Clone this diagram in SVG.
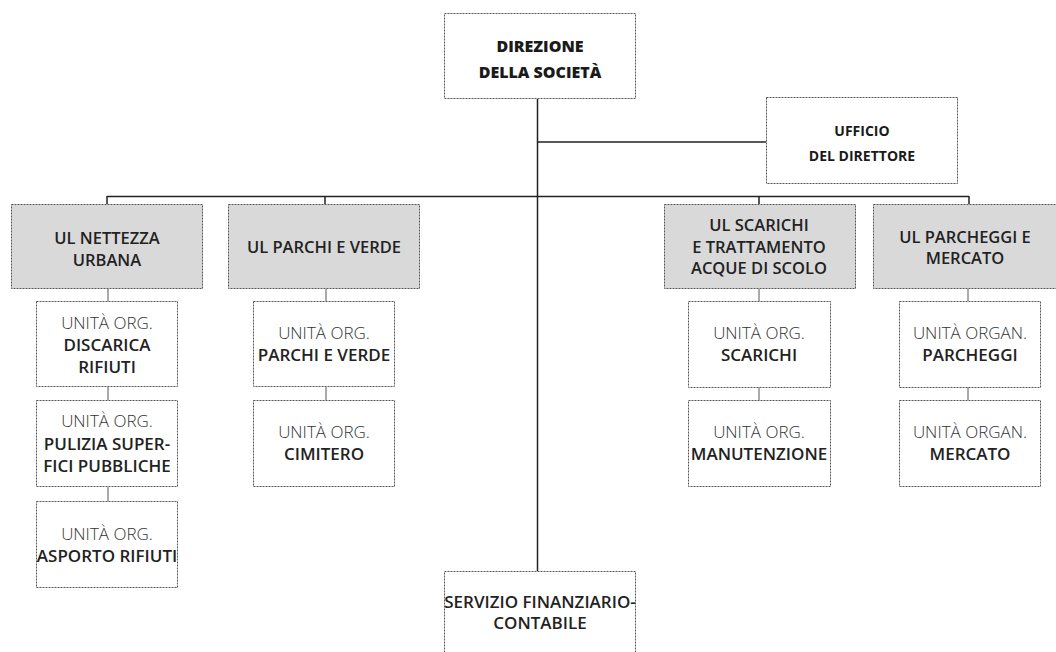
<svg xmlns="http://www.w3.org/2000/svg" width="1056" height="652" viewBox="0 0 1056 652">
<style>
  .box { fill: #ffffff; stroke: #555555; stroke-width: 1; stroke-dasharray: 2 1; }
  .ul { fill: #d9d9da; stroke: #555555; stroke-width: 1; stroke-dasharray: 2 1; }
  .main { stroke: #222222; stroke-width: 1.5; fill: none; }
  .sub { stroke: #555555; stroke-width: 1; fill: none; }
  text { font-family: "Open Sans", "Liberation Sans", sans-serif; text-anchor: middle; }
  .hd { font-size: 16px; font-weight: 800; fill: #1a1a1a; }
  .uf { font-size: 14px; font-weight: 700; fill: #1a1a1a; }
  .ult { font-size: 16.5px; font-weight: 600; fill: #222222; }
  .lt { font-size: 17px; font-weight: 300; fill: #333333; }
  .bd { font-size: 17px; font-weight: 600; fill: #222222; }
</style>
<rect width="1056" height="652" fill="#ffffff"/>
<g id="connectors">
  <path class="main" d="M537.5 99 V571 M537.5 142 H766 M107 196.5 H969 M107 196 V204 M325 196 V204 M759 196 V204 M969 196 V204"/>
  <path class="sub" d="M108 289 V301 M108 387 V400 M108 487 V501 M326 289 V301 M326 387 V400 M759 289 V301 M759 387 V400 M968 289 V301 M968 387 V400"/>
</g>
<g id="direzione">
  <rect class="box" x="444.5" y="13.5" width="191" height="85"/>
  <text class="hd" x="540" y="52">DIREZIONE</text>
  <text class="hd" x="540" y="78">DELLA SOCIETÀ</text>
</g>
<g id="ufficio">
  <rect class="box" x="766.5" y="97.5" width="191" height="86"/>
  <text class="uf" x="862" y="136">UFFICIO</text>
  <text class="uf" x="862" y="161">DEL DIRETTORE</text>
</g>
<g id="ul-nettezza">
  <rect class="ul" x="11.5" y="204.5" width="191" height="84"/>
  <text class="ult" x="107" y="244">UL NETTEZZA</text>
  <text class="ult" x="107" y="266">URBANA</text>
</g>
<g id="ul-parchi">
  <rect class="ul" x="228.5" y="204.5" width="191" height="84"/>
  <text class="ult" x="324" y="253">UL PARCHI E VERDE</text>
</g>
<g id="ul-scarichi">
  <rect class="ul" x="664.5" y="204.5" width="191" height="84"/>
  <text class="ult" x="759" y="231">UL SCARICHI</text>
  <text class="ult" x="759" y="253">E TRATTAMENTO</text>
  <text class="ult" x="759" y="274">ACQUE DI SCOLO</text>
</g>
<g id="ul-parcheggi">
  <rect class="ul" x="873.5" y="204.5" width="191" height="84"/>
  <text class="ult" x="965" y="243">UL PARCHEGGI E</text>
  <text class="ult" x="965" y="264">MERCATO</text>
</g>
<g id="uo-discarica">
  <rect class="box" x="36.5" y="301.5" width="141" height="85"/>
  <text class="lt" x="107" y="329">UNITÀ ORG.</text>
  <text class="bd" x="107" y="351">DISCARICA</text>
  <text class="bd" x="107" y="373">RIFIUTI</text>
</g>
<g id="uo-pulizia">
  <rect class="box" x="36.5" y="400.5" width="141" height="86"/>
  <text class="lt" x="107" y="427">UNITÀ ORG.</text>
  <text class="bd" x="107" y="450">PULIZIA SUPER-</text>
  <text class="bd" x="107" y="472">FICI PUBBLICHE</text>
</g>
<g id="uo-asporto">
  <rect class="box" x="36.5" y="501.5" width="141" height="86"/>
  <text class="lt" x="107" y="540">UNITÀ ORG.</text>
  <text class="bd" x="107" y="562">ASPORTO RIFIUTI</text>
</g>
<g id="uo-parchi">
  <rect class="box" x="253.5" y="301.5" width="141" height="85"/>
  <text class="lt" x="324" y="339">UNITÀ ORG.</text>
  <text class="bd" x="324" y="361">PARCHI E VERDE</text>
</g>
<g id="uo-cimitero">
  <rect class="box" x="253.5" y="400.5" width="141" height="86"/>
  <text class="lt" x="324" y="438">UNITÀ ORG.</text>
  <text class="bd" x="324" y="460">CIMITERO</text>
</g>
<g id="uo-scarichi">
  <rect class="box" x="688.5" y="301.5" width="142" height="86"/>
  <text class="lt" x="759" y="339">UNITÀ ORG.</text>
  <text class="bd" x="759" y="361">SCARICHI</text>
</g>
<g id="uo-manutenzione">
  <rect class="box" x="688.5" y="400.5" width="142" height="86"/>
  <text class="lt" x="759" y="438">UNITÀ ORG.</text>
  <text class="bd" x="759" y="460">MANUTENZIONE</text>
</g>
<g id="uo-parcheggi">
  <rect class="box" x="899.5" y="301.5" width="141" height="86"/>
  <text class="lt" x="970" y="339">UNITÀ ORGAN.</text>
  <text class="bd" x="970" y="361">PARCHEGGI</text>
</g>
<g id="uo-mercato">
  <rect class="box" x="899.5" y="400.5" width="141" height="86"/>
  <text class="lt" x="970" y="438">UNITÀ ORGAN.</text>
  <text class="bd" x="970" y="460">MERCATO</text>
</g>
<g id="servizio">
  <rect class="box" x="444.5" y="571.5" width="191" height="100"/>
  <text class="bd" x="540" y="608">SERVIZIO FINANZIARIO-</text>
  <text class="bd" x="540" y="629">CONTABILE</text>
</g>
</svg>
